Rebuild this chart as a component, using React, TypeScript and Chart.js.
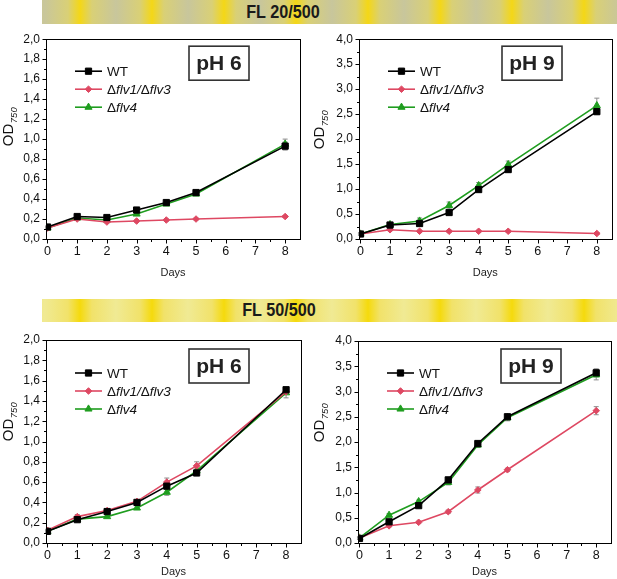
import React, { useEffect, useRef } from "react";
import { Chart, registerables } from "chart.js";

Chart.register(...registerables);

const FONT = "'Liberation Sans', Arial, Helvetica, sans-serif";

// ---- shared axis data ----
const DAYS = [0, 1, 2, 3, 4, 5, 8];
const X_TICKS = [0, 1, 2, 3, 4, 5, 6, 7, 8];
const X_MINOR = [0.5, 1.5, 2.5, 3.5, 4.5, 5.5, 6.5, 7.5, 8.5];
const Y_TICKS_2 = [0, 0.2, 0.4, 0.6, 0.8, 1.0, 1.2, 1.4, 1.6, 1.8, 2.0];
const Y_MINOR_2 = [0.1, 0.3, 0.5, 0.7, 0.9, 1.1, 1.3, 1.5, 1.7, 1.9];
const Y_TICKS_4 = [0, 0.5, 1.0, 1.5, 2.0, 2.5, 3.0, 3.5, 4.0];
const Y_MINOR_4 = [0.25, 0.75, 1.25, 1.75, 2.25, 2.75, 3.25, 3.75];

const SERIES_NAMES = ["WT", "Δflv1/Δflv3", "Δflv4"];
const SERIES_COLORS = ["#000000", "#de4862", "#1f9d1f"];
const SERIES_MARKERS = ["rect", "rectRot", "triangle"];
const SERIES_RADII = [4.4, 3.3, 4.1];

const BANNER_TITLES = ["FL 20/500", "FL 50/500"];
const PH_LABELS = ["pH 6", "pH 9"];

// ---- FL 20/500, pH 6 ----
const FL20_PH6_WT = [0.12, 0.225, 0.215, 0.29, 0.365, 0.465, 0.93];
const FL20_PH6_F13 = [0.11, 0.2, 0.17, 0.18, 0.19, 0.2, 0.225];
const FL20_PH6_F4 = [0.11, 0.21, 0.19, 0.25, 0.35, 0.45, 0.95];
const FL20_PH6_WT_ERR = [0.01, 0.01, 0.01, 0.01, 0.01, 0.01, 0.04];
const FL20_PH6_F13_ERR = [0.01, 0.01, 0.01, 0.01, 0.01, 0.01, 0.01];
const FL20_PH6_F4_ERR = [0.01, 0.01, 0.01, 0.01, 0.01, 0.01, 0.05];

// ---- FL 20/500, pH 9 ----
const FL20_PH9_WT = [0.1, 0.28, 0.31, 0.53, 0.99, 1.39, 2.55];
const FL20_PH9_F13 = [0.1, 0.185, 0.155, 0.155, 0.155, 0.155, 0.11];
const FL20_PH9_F4 = [0.1, 0.29, 0.36, 0.67, 1.07, 1.49, 2.67];
const FL20_PH9_WT_ERR = [0.02, 0.03, 0.03, 0.04, 0.04, 0.05, 0.06];
const FL20_PH9_F13_ERR = [0.02, 0.02, 0.02, 0.02, 0.02, 0.02, 0.02];
const FL20_PH9_F4_ERR = [0.02, 0.03, 0.06, 0.07, 0.06, 0.07, 0.15];

// ---- FL 50/500, pH 6 ----
const FL50_PH6_WT = [0.115, 0.23, 0.31, 0.4, 0.56, 0.69, 1.51];
const FL50_PH6_F13 = [0.125, 0.26, 0.32, 0.41, 0.6, 0.76, 1.49];
const FL50_PH6_F4 = [0.115, 0.235, 0.26, 0.345, 0.5, 0.71, 1.48];
const FL50_PH6_WT_ERR = [0.01, 0.01, 0.01, 0.01, 0.02, 0.02, 0.02];
const FL50_PH6_F13_ERR = [0.01, 0.02, 0.01, 0.01, 0.04, 0.04, 0.02];
const FL50_PH6_F4_ERR = [0.01, 0.01, 0.01, 0.01, 0.03, 0.02, 0.05];

// ---- FL 50/500, pH 9 ----
const FL50_PH9_WT = [0.09, 0.42, 0.74, 1.25, 1.97, 2.5, 3.37];
const FL50_PH9_F13 = [0.1, 0.34, 0.41, 0.62, 1.05, 1.45, 2.62];
const FL50_PH9_F4 = [0.1, 0.55, 0.82, 1.2, 1.94, 2.48, 3.33];
const FL50_PH9_WT_ERR = [0.02, 0.03, 0.03, 0.04, 0.04, 0.04, 0.08];
const FL50_PH9_F13_ERR = [0.02, 0.02, 0.02, 0.03, 0.06, 0.03, 0.08];
const FL50_PH9_F4_ERR = [0.02, 0.03, 0.03, 0.05, 0.05, 0.06, 0.1];

type PanelCfg = {
  left: number;
  top: number;
  width: number;
  height: number;
  padTop: number;
  padRight: number;
  yWidth: number;
  xHeight: number;
  yMax: number;
  yTicks: number[];
  yMinor: number[];
  values: number[][];
  errors: number[][];
  ph: string;
  titleX: number;
  titleY: number;
  legendDy: number;
  boxDy: number;
};

const PANELS: PanelCfg[] = [
  {
    left: 0, top: 26, width: 308, height: 254,
    padTop: 10, padRight: 8, yWidth: 46, xHeight: 41,
    yMax: 2, yTicks: Y_TICKS_2, yMinor: Y_MINOR_2,
    values: [FL20_PH6_WT, FL20_PH6_F13, FL20_PH6_F4],
    errors: [FL20_PH6_WT_ERR, FL20_PH6_F13_ERR, FL20_PH6_F4_ERR],
    ph: PH_LABELS[0], titleX: 9, titleY: 127, legendDy: 32, boxDy: 7,
  },
  {
    left: 310, top: 26, width: 307, height: 254,
    padTop: 10, padRight: 5, yWidth: 49, xHeight: 41,
    yMax: 4, yTicks: Y_TICKS_4, yMinor: Y_MINOR_4,
    values: [FL20_PH9_WT, FL20_PH9_F13, FL20_PH9_F4],
    errors: [FL20_PH9_WT_ERR, FL20_PH9_F13_ERR, FL20_PH9_F4_ERR],
    ph: PH_LABELS[1], titleX: 320, titleY: 130, legendDy: 32, boxDy: 7,
  },
  {
    left: 0, top: 326, width: 308, height: 253,
    padTop: 14, padRight: 7, yWidth: 46, xHeight: 36,
    yMax: 2, yTicks: Y_TICKS_2, yMinor: Y_MINOR_2,
    values: [FL50_PH6_WT, FL50_PH6_F13, FL50_PH6_F4],
    errors: [FL50_PH6_WT_ERR, FL50_PH6_F13_ERR, FL50_PH6_F4_ERR],
    ph: PH_LABELS[0], titleX: 9, titleY: 422, legendDy: 33, boxDy: 9,
  },
  {
    left: 310, top: 326, width: 307, height: 253,
    padTop: 15, padRight: 6, yWidth: 48, xHeight: 36,
    yMax: 4, yTicks: Y_TICKS_4, yMinor: Y_MINOR_4,
    values: [FL50_PH9_WT, FL50_PH9_F13, FL50_PH9_F4],
    errors: [FL50_PH9_WT_ERR, FL50_PH9_F13_ERR, FL50_PH9_F4_ERR],
    ph: PH_LABELS[1], titleX: 320, titleY: 423, legendDy: 32, boxDy: 8,
  },
];

function fmtComma(v: number): string {
  return v.toFixed(1).replace(".", ",");
}

function drawMarker(ctx: CanvasRenderingContext2D, style: string, x: number, y: number, r: number, color: string) {
  ctx.save();
  ctx.fillStyle = color;
  ctx.strokeStyle = color;
  ctx.lineWidth = 1;
  ctx.beginPath();
  if (style === "rect") {
    const s = r * Math.SQRT1_2;
    ctx.rect(x - s, y - s, 2 * s, 2 * s);
  } else if (style === "rectRot") {
    ctx.moveTo(x, y - r);
    ctx.lineTo(x + r, y);
    ctx.lineTo(x, y + r);
    ctx.lineTo(x - r, y);
    ctx.closePath();
  } else {
    ctx.moveTo(x, y - r);
    ctx.lineTo(x + 0.866 * r, y + 0.5 * r);
    ctx.lineTo(x - 0.866 * r, y + 0.5 * r);
    ctx.closePath();
  }
  ctx.fill();
  ctx.stroke();
  ctx.restore();
}

const LEGEND_SEGMENTS: { t: string; i: boolean }[][] = [
  [{ t: "WT", i: false }],
  [
    { t: "Δ", i: false },
    { t: "flv1", i: true },
    { t: "/", i: true },
    { t: "Δ", i: false },
    { t: "flv3", i: true },
  ],
  [
    { t: "Δ", i: false },
    { t: "flv4", i: true },
  ],
];

function makeDecor(p: PanelCfg) {
  return {
    id: "decor",
    beforeDatasetsDraw(chart: any) {
      const ctx: CanvasRenderingContext2D = chart.ctx;
      const xs = chart.scales.x;
      const ys = chart.scales.y;
      ctx.save();
      ctx.strokeStyle = "#8c8c8c";
      ctx.lineWidth = 1;
      p.values.forEach((vals, si) => {
        vals.forEach((v, i) => {
          const e = p.errors[si][i];
          const x = xs.getPixelForValue(DAYS[i]);
          const y1 = ys.getPixelForValue(v - e);
          const y2 = ys.getPixelForValue(v + e);
          ctx.beginPath();
          ctx.moveTo(x, y1);
          ctx.lineTo(x, y2);
          ctx.moveTo(x - 2.5, y1);
          ctx.lineTo(x + 2.5, y1);
          ctx.moveTo(x - 2.5, y2);
          ctx.lineTo(x + 2.5, y2);
          ctx.stroke();
        });
      });
      ctx.restore();
    },
    afterDraw(chart: any) {
      const ctx: CanvasRenderingContext2D = chart.ctx;
      const a = chart.chartArea;
      const xs = chart.scales.x;
      const ys = chart.scales.y;
      ctx.save();
      // frame
      ctx.strokeStyle = "#000";
      ctx.lineWidth = 1;
      ctx.strokeRect(Math.round(a.left) + 0.5, Math.round(a.top) + 0.5, Math.round(a.right - a.left), Math.round(a.bottom - a.top));
      // tick marks
      ctx.beginPath();
      const bottom = Math.round(a.bottom) + 0.5;
      const left = Math.round(a.left) + 0.5;
      X_TICKS.forEach((v) => {
        const x = Math.round(xs.getPixelForValue(v)) + 0.5;
        ctx.moveTo(x, bottom);
        ctx.lineTo(x, bottom + 4);
      });
      X_MINOR.forEach((v) => {
        const x = Math.round(xs.getPixelForValue(v)) + 0.5;
        if (x <= a.right) {
          ctx.moveTo(x, bottom);
          ctx.lineTo(x, bottom + 2.5);
        }
      });
      p.yTicks.forEach((v) => {
        const y = Math.round(ys.getPixelForValue(v)) + 0.5;
        ctx.moveTo(left, y);
        ctx.lineTo(left - 4, y);
      });
      p.yMinor.forEach((v) => {
        const y = Math.round(ys.getPixelForValue(v)) + 0.5;
        ctx.moveTo(left, y);
        ctx.lineTo(left - 2.5, y);
      });
      ctx.stroke();

      // legend
      SERIES_NAMES.forEach((_, si) => {
        const y = a.top + p.legendDy + si * 18;
        const x1 = a.left + 29;
        const x2 = a.left + 56;
        ctx.strokeStyle = SERIES_COLORS[si];
        ctx.lineWidth = 1.6;
        ctx.beginPath();
        ctx.moveTo(x1, y);
        ctx.lineTo(x2, y);
        ctx.stroke();
        drawMarker(ctx, SERIES_MARKERS[si], (x1 + x2) / 2, y, SERIES_RADII[si], SERIES_COLORS[si]);
        let tx = a.left + 61;
        ctx.fillStyle = "#111";
        ctx.textBaseline = "middle";
        ctx.textAlign = "left";
        LEGEND_SEGMENTS[si].forEach((seg) => {
          ctx.font = `${seg.i ? "italic " : ""}13.5px ${FONT}`;
          ctx.fillText(seg.t, tx, y + 1);
          tx += ctx.measureText(seg.t).width;
        });
      });

      // pH box
      const bx = a.left + 143;
      const by = a.top + p.boxDy;
      ctx.fillStyle = "#fff";
      ctx.fillRect(bx, by, 60, 34);
      ctx.strokeStyle = "#333";
      ctx.lineWidth = 1.6;
      ctx.strokeRect(bx, by, 60, 34);
      ctx.fillStyle = "#222";
      ctx.font = `bold 21px ${FONT}`;
      ctx.textAlign = "center";
      ctx.textBaseline = "middle";
      ctx.fillText(p.ph, bx + 30, by + 18);

      // y title with subscript
      const tX = p.titleX - p.left;
      const tY = p.titleY - p.top;
      ctx.translate(tX, tY);
      ctx.rotate(-Math.PI / 2);
      ctx.font = `15px ${FONT}`;
      const wOD = ctx.measureText("OD").width;
      ctx.font = `italic 9.5px ${FONT}`;
      const wSub = ctx.measureText("750").width;
      const start = -(wOD + wSub) / 2;
      ctx.textAlign = "left";
      ctx.textBaseline = "middle";
      ctx.fillStyle = "#111";
      ctx.font = `15px ${FONT}`;
      ctx.fillText("OD", start, 0);
      ctx.font = `italic 9.5px ${FONT}`;
      ctx.fillText("750", start + wOD + 0.5, 5);
      ctx.restore();
    },
  };
}

function Panel({ p }: { p: PanelCfg }) {
  const ref = useRef<HTMLCanvasElement | null>(null);
  useEffect(() => {
    if (!ref.current) return;
    const datasets = [0, 1, 2].map((si) => ({
      label: SERIES_NAMES[si],
      data: DAYS.map((d, i) => ({ x: d, y: p.values[si][i] })),
      borderColor: SERIES_COLORS[si],
      backgroundColor: SERIES_COLORS[si],
      pointBackgroundColor: SERIES_COLORS[si],
      pointBorderColor: SERIES_COLORS[si],
      pointBorderWidth: 1,
      pointStyle: SERIES_MARKERS[si],
      pointRadius: SERIES_RADII[si],
      borderWidth: 1.6,
      tension: 0,
      fill: false,
    }));
    const chart = new Chart(ref.current, {
      type: "line",
      data: { datasets },
      options: {
        animation: false,
        responsive: false,
        maintainAspectRatio: false,
        events: [],
        layout: { padding: { top: p.padTop, right: p.padRight, left: 0, bottom: 0 } },
        plugins: { legend: { display: false }, tooltip: { enabled: false } },
        scales: {
          x: {
            type: "linear",
            min: -0.05,
            max: 8.5,
            afterBuildTicks: (s: any) => {
              s.ticks = X_TICKS.map((v) => ({ value: v }));
            },
            afterFit: (s: any) => {
              s.height = p.xHeight;
            },
            grid: { display: false, drawTicks: false },
            border: { display: false },
            ticks: {
              padding: 5,
              color: "#111",
              font: { family: FONT, size: 12.5 },
              maxRotation: 0,
              autoSkip: false,
              callback: (v: any) => String(v),
            },
            title: {
              display: true,
              text: "Days",
              color: "#222",
              font: { family: FONT, size: 11 },
              padding: 0,
            },
          },
          y: {
            type: "linear",
            min: 0,
            max: p.yMax,
            afterBuildTicks: (s: any) => {
              s.ticks = p.yTicks.map((v) => ({ value: v }));
            },
            afterFit: (s: any) => {
              s.width = p.yWidth;
            },
            grid: { display: false, drawTicks: false },
            border: { display: false },
            ticks: {
              padding: 6,
              color: "#111",
              font: { family: FONT, size: 12 },
              autoSkip: false,
              callback: (v: any) => fmtComma(Number(v)),
            },
          },
        },
      } as any,
      plugins: [makeDecor(p) as any],
    });
    return () => chart.destroy();
  }, [p]);
  return (
    <canvas
      ref={ref}
      width={p.width}
      height={p.height}
      style={{ position: "absolute", left: p.left, top: p.top, width: p.width, height: p.height }}
    />
  );
}

function Banner({ top, height, title, base, mid, gold, textX }: { top: number; height: number; title: string; base: string; mid: string; gold: string; textX: number }) {
  return (
    <div
      style={{
        position: "absolute",
        left: 42,
        top,
        width: 575,
        height,
        background: `repeating-linear-gradient(90deg, ${base} 0px, ${mid} 24px, ${gold} 36px, ${mid} 48px, ${base} 72px)`,
        backgroundPosition: "2px 0",
      }}
    >
      <div
        style={{
          position: "absolute",
          left: textX - 42 - 60,
          width: 120,
          top: 0,
          height,
          lineHeight: `${height}px`,
          textAlign: "center",
          fontFamily: FONT,
          fontWeight: "bold",
          fontSize: 18,
          color: "#1a1a1a",
          transform: "scaleX(0.9)",
        }}
      >
        {title}
      </div>
    </div>
  );
}

export default function App() {
  return (
    <div style={{ position: "fixed", left: 0, top: 0, width: 617, height: 579, background: "#fff", overflow: "hidden" }}>
      <Banner top={0} height={24} title={BANNER_TITLES[0]} base="#c8c69c" mid="#d9d076" gold="#f4d716" textX={283} />
      <Banner top={299} height={23} title={BANNER_TITLES[1]} base="#f0ea94" mid="#f1e26a" gold="#f5da0c" textX={279} />
      {PANELS.map((p, i) => (
        <Panel key={i} p={p} />
      ))}
    </div>
  );
}
